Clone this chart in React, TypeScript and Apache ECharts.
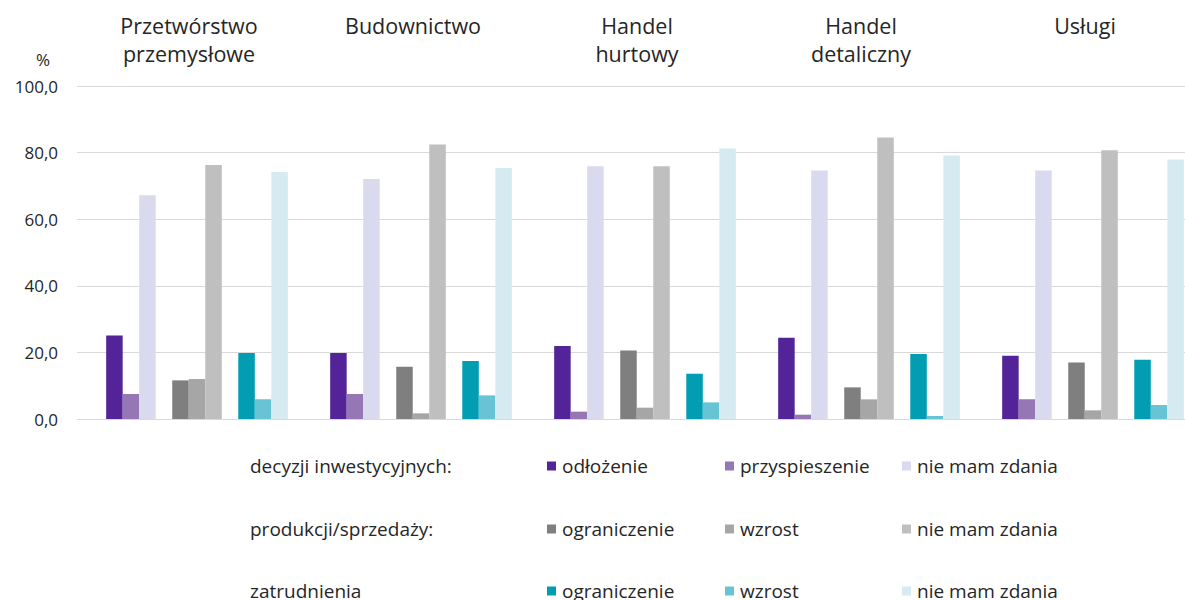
import React, { useEffect, useRef } from "react";
import * as echarts from "echarts";

const sectors = ["Przetwórstwo\nprzemysłowe", "Budownictwo", "Handel\nhurtowy", "Handel\ndetaliczny", "Usługi"];

const invPostpone = [25.1, 19.8, 21.9, 24.4, 19.0];
const invAccelerate = [7.5, 7.5, 2.2, 1.3, 5.9];
const invNoOpinion = [67.2, 72.1, 75.9, 74.6, 74.6];
const prodLimit = [11.6, 15.7, 20.6, 9.5, 17.0];
const prodGrowth = [12.0, 1.7, 3.4, 5.9, 2.6];
const prodNoOpinion = [76.3, 82.4, 75.9, 84.5, 80.7];
const empLimit = [19.8, 17.4, 13.6, 19.5, 17.8];
const empGrowth = [5.9, 7.1, 5.0, 0.9, 4.2];
const empNoOpinion = [74.2, 75.4, 81.2, 79.1, 77.9];

const rowLabels = ["decyzji inwestycyjnych:", "produkcji/sprzedaży:", "zatrudnienia"];

const FONT = "'Open Sans', sans-serif";
const TEXT = "#262626";
const LEGEND_FS = 19;

type S = { id: string; label: string; color: string; data: (number | null)[]; row: number; col: number };

const seriesDefs: S[] = [
  { id: "inv_odl", label: "odłożenie", color: "#532497", data: invPostpone, row: 0, col: 0 },
  { id: "inv_prz", label: "przyspieszenie", color: "#9677b5", data: invAccelerate, row: 0, col: 1 },
  { id: "inv_nmz", label: "nie mam zdania", color: "#d9daee", data: invNoOpinion, row: 0, col: 2 },
  { id: "prod_ogr", label: "ograniczenie", color: "#7f7f7f", data: prodLimit, row: 1, col: 0 },
  { id: "prod_wzr", label: "wzrost", color: "#a6a6a6", data: prodGrowth, row: 1, col: 1 },
  { id: "prod_nmz", label: "nie mam zdania", color: "#bfbfbf", data: prodNoOpinion, row: 1, col: 2 },
  { id: "emp_ogr", label: "ograniczenie", color: "#009db3", data: empLimit, row: 2, col: 0 },
  { id: "emp_wzr", label: "wzrost", color: "#68c3d4", data: empGrowth, row: 2, col: 1 },
  { id: "emp_nmz", label: "nie mam zdania", color: "#d5ebf1", data: empNoOpinion, row: 2, col: 2 },
];

const legendCols = [547, 725, 902];
const legendRows = [466, 529, 591];

export default function App() {
  const ref = useRef<HTMLDivElement>(null);
  useEffect(() => {
    if (!ref.current) return;
    const chart = echarts.init(ref.current, null, { renderer: "svg" });
    const gap = (k: number) => ({
      type: "bar",
      name: "gap" + k,
      xAxisIndex: 1,
      yAxisIndex: 1,
      data: sectors.map(() => null),
      barGap: "0%",
      barCategoryGap: "18.9%",
    });
    const mk = (s: S) => ({
      type: "bar",
      name: s.id,
      xAxisIndex: 1,
      yAxisIndex: 1,
      data: s.data,
      itemStyle: { color: s.color },
      barGap: "0%",
      barCategoryGap: "18.9%",
    });
    const series: any[] = [
      mk(seriesDefs[0]), mk(seriesDefs[1]), mk(seriesDefs[2]), gap(1),
      mk(seriesDefs[3]), mk(seriesDefs[4]), mk(seriesDefs[5]), gap(2),
      mk(seriesDefs[6]), mk(seriesDefs[7]), mk(seriesDefs[8]),
    ];
    const labelMap: Record<string, string> = {};
    seriesDefs.forEach((s) => (labelMap[s.id] = s.label));
    const legends = seriesDefs.map((s) => ({
      data: [s.id],
      left: legendCols[s.col],
      top: legendRows[s.row] - 13,
      padding: 0,
      itemWidth: 9,
      itemHeight: 9,
      icon: "rect",
      selectedMode: false,
      formatter: (n: string) => labelMap[n],
      textStyle: { fontFamily: FONT, fontSize: LEGEND_FS, color: TEXT, padding: [0, 0, 0, 1], lineHeight: 26 },
    }));
    const option: any = {
      animation: false,
      textStyle: { fontFamily: FONT },
      grid: [
        { left: 77, top: 86, width: 1128, height: 333 },
        { left: 85, top: 86, width: 1120, height: 333 },
      ],
      xAxis: [
        { type: "value", gridIndex: 0, show: false, min: 0, max: 1 },
        {
          type: "category",
          gridIndex: 1,
          position: "top",
          data: sectors,
          axisLine: { show: false },
          axisTick: { show: false },
          axisLabel: {
            fontFamily: FONT,
            fontSize: 21.5,
            color: TEXT,
            lineHeight: 28,
            verticalAlign: "top",
            margin: 75,
            padding: [0, 16, 0, 0],
          },
        },
      ],
      yAxis: [
        {
          type: "value",
          gridIndex: 0,
          min: 0,
          max: 100,
          interval: 20,
          name: "%",
          nameLocation: "end",
          nameGap: 18,
          nameTextStyle: { fontFamily: FONT, fontSize: 17, color: TEXT, align: "center", padding: [0, 68, 0, 0] },
          axisLine: { show: false },
          axisTick: { show: false },
          axisLabel: {
            fontFamily: FONT,
            fontSize: 17,
            color: TEXT,
            margin: 19,
            formatter: (v: number) => v.toFixed(1).replace(".", ","),
          },
          splitLine: { lineStyle: { color: "#d9d9d9", width: 1 } },
        },
        { type: "value", gridIndex: 1, min: 0, max: 100, interval: 20, show: false },
      ],
      legend: legends,
      graphic: rowLabels.map((t, i) => ({
        type: "text",
        left: 250,
        top: legendRows[i] - 13,
        style: { text: t, fontFamily: FONT, fontSize: LEGEND_FS, fill: TEXT, lineHeight: 26 },
      })),
      series,
    };
    chart.setOption(option);
    return () => chart.dispose();
  }, []);
  return (
    <div style={{ position: "fixed", left: 0, top: 0, width: 1185, height: 600, overflow: "hidden", background: "#fff" }}>
      <div ref={ref} style={{ width: 1215, height: 600 }} />
    </div>
  );
}
